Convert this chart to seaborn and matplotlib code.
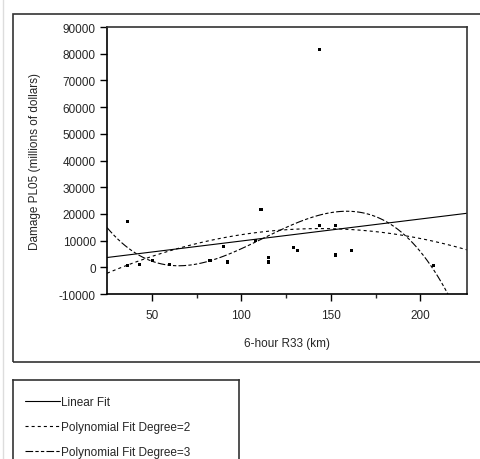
import numpy as np
import pandas as pd
import seaborn as sns
import matplotlib.pyplot as plt
from matplotlib.patches import Rectangle

# Values
r33 = [36.5, 36.5, 43.0, 50.5, 60, 82.5, 90, 92.5, 108, 111,
       115, 115, 129, 131.5, 143.5, 143.5, 152.5, 152.5, 161.5, 207.5]
damage = [17000, 600, 900, 2600, 900, 2500, 7700, 2000, 10200, 21500,
          3600, 2000, 7500, 6400, 15800, 81500, 15800, 4600, 6400, 800]

fit_labels = ['Linear Fit', 'Polynomial Fit Degree=2', 'Polynomial Fit Degree=3']
fit_orders = [1, 2, 3]

df = pd.DataFrame({'r33': r33, 'damage': damage})

sns.set_style('ticks')
plt.rcParams['font.family'] = ['Liberation Sans', 'DejaVu Sans']
plt.rcParams['lines.scale_dashes'] = False
plt.rcParams['axes.unicode_minus'] = False

fig = plt.figure(figsize=(4.8, 4.6), dpi=100)

# outer frame around the plot and a faint line at the left edge
fig.patches.append(Rectangle((13 / 480, 97 / 460), 2.0, 348 / 460, transform=fig.transFigure,
                             fill=False, edgecolor='#333333', lw=1.2, clip_on=False))
fig.add_artist(plt.Line2D([3 / 480, 3 / 480], [0, 1], color='#dddddd', lw=1.0))

ax = fig.add_axes([107 / 480, 165 / 460, 360 / 480, 267 / 460])
ax.set_xlim(25, 226)
ax.set_ylim(-10000, 90000)

sns.scatterplot(data=df, x='r33', y='damage', ax=ax, marker='s', s=5,
                color='black', edgecolor='none', legend=False)

dash_styles = ['-', (0, (2.2, 2.2)), (0, (5.5, 1.6, 2.4, 1.6, 2.4, 1.6))]
for order, label, ls in zip(fit_orders, fit_labels, dash_styles):
    sns.regplot(data=df, x='r33', y='damage', order=order, ci=None, scatter=False,
                truncate=False, ax=ax, label=label,
                line_kws={'color': 'black', 'lw': 0.8, 'linestyle': ls})

ax.set_xlim(25, 226)
ax.set_ylim(-10000, 90000)
ax.set_xticks([50, 100, 150, 200])
ax.set_xticks([75, 125, 175], minor=True)
ax.set_yticks(np.arange(-10000, 90001, 10000))
ax.tick_params(axis='both', which='major', length=5, width=1, labelsize=8.5, color='black')
ax.tick_params(axis='x', which='major', pad=6)
ax.tick_params(axis='y', which='major', pad=3)
ax.tick_params(axis='x', which='minor', length=3, width=1)
for side in ['left', 'bottom']:
    ax.spines[side].set_color('black')
    ax.spines[side].set_linewidth(1.2)
for side in ['top', 'right']:
    ax.spines[side].set_color('#333333')
    ax.spines[side].set_linewidth(1.2)
ax.set_xlabel('6-hour R33 (km)', fontsize=8.5, labelpad=11)
ax.set_ylabel('Damage PL05 (millions of dollars)', fontsize=8.5, labelpad=13)

# legend box below the frame
lax = fig.add_axes([13 / 480, -0.05, 226 / 480, 79 / 460 + 0.05])
lax.set_xticks([])
lax.set_yticks([])
for s in lax.spines.values():
    s.set_color('#333333')
    s.set_linewidth(1.2)
handles, labels = ax.get_legend_handles_labels()
lax.legend(handles, labels, loc='upper left', frameon=False, fontsize=8.5,
           handlelength=3.0, handletextpad=0.1, labelspacing=1.1,
           borderaxespad=0.0, bbox_to_anchor=(0.03, 0.89))

fig.savefig('out.png', dpi=100)
